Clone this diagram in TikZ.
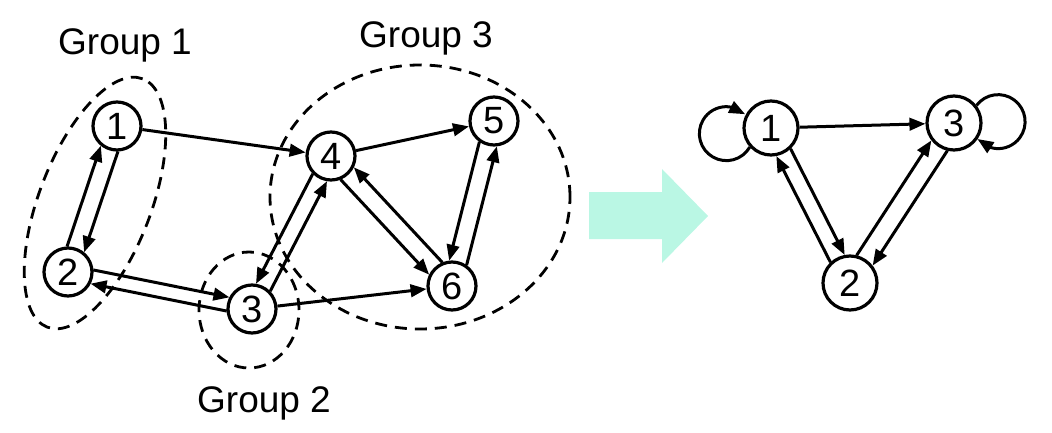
\documentclass[tikz,border=0pt]{standalone}
\usepackage{fontspec}
\setmainfont{Liberation Sans}
\usetikzlibrary{arrows.meta,calc,bending}
\definecolor{bigarrow}{HTML}{BAF7E4}
\tikzset{
  nd/.style={circle,draw,fill=white,line width=3.2pt,minimum size=48pt,inner sep=0pt,font=\fontsize{38}{38}\selectfont},
  rnd/.style={nd,minimum size=54pt},
  arr/.style={line width=3pt,-{Triangle[length=16pt,width=12.5pt]}},
  grp/.style={line width=2.8pt,dash pattern=on 12pt off 8pt},
  lbl/.style={font=\fontsize{37}{37}\selectfont,anchor=base,inner sep=0pt},
}
\newcommand\pedgeL[4]{\draw[arr,shorten <=#4,shorten >=#4] ($(#1)!#3!90:(#2)$) -- ($(#2)!#3!-90:(#1)$);}
\newcommand\pedgeR[4]{\draw[arr,shorten <=#4,shorten >=#4] ($(#1)!#3!-90:(#2)$) -- ($(#2)!#3!90:(#1)$);}
\begin{document}
\begin{tikzpicture}[x=1pt,y=1pt]
\useasboundingbox (0,0) rectangle (1052,-433);
% group ellipses
\draw[grp,rotate around={69:(95,-203)}] (95,-203) ellipse [x radius=133pt,y radius=56pt];
\draw[grp] (249,-310) ellipse [x radius=50pt,y radius=58pt];
\draw[grp] (420,-197) ellipse [x radius=150pt,y radius=132pt];
% labels
\node[lbl] (g1) at (125,-55) {Group 1};
\node[lbl] (g2) at (264,-412) {Group 2};
\node[lbl] (g3) at (426,-48) {Group 3};
% left nodes
\node[nd] (L1) at (117,-126) {1};
\node[nd] (L2) at (68,-272) {2};
\node[nd] (L3) at (252,-309) {3};
\node[nd] (L4) at (331,-156) {4};
\node[nd] (L5) at (494,-121) {5};
\node[nd] (L6) at (452,-286) {6};
% left edges
\draw[arr] (L1) -- (L4);
\draw[arr] (L4) -- (L5);
\draw[arr] (L3) -- (L6);
\pedgeL{L2}{L1}{9pt}{23.8pt}
\pedgeL{L1}{L2}{9pt}{23.8pt}
\pedgeL{L2}{L3}{7pt}{24.4pt}
\pedgeL{L3}{L2}{7pt}{24.4pt}
\pedgeR{L3}{L4}{8pt}{24.2pt}
\pedgeR{L4}{L3}{8pt}{24.2pt}
\pedgeR{L4}{L6}{9pt}{23.8pt}
\pedgeR{L6}{L4}{9pt}{23.8pt}
\pedgeR{L5}{L6}{9pt}{23.8pt}
\pedgeR{L6}{L5}{9pt}{23.8pt}
% big arrow
\fill[bigarrow] (589,-192) -- (662,-192) -- (662,-169) -- (708,-216) -- (662,-263) -- (662,-239) -- (589,-239) -- cycle;
% right nodes
\node[rnd] (R1) at (771,-128) {1};
\node[rnd] (R3) at (954,-123) {3};
\node[rnd] (R2) at (850,-283) {2};
\draw[arr] (R1) -- (R3);
\pedgeL{R1}{R2}{8pt}{27.4pt}
\pedgeL{R2}{R1}{8pt}{27.4pt}
\pedgeL{R2}{R3}{9.5pt}{26.9pt}
\pedgeL{R3}{R2}{9.5pt}{26.9pt}
\draw[arr] (R1.222) arc[start angle=-30,end angle=-314,radius=27pt];
\draw[arr] (R3.38) arc[start angle=143,end angle=-140,radius=27pt];
\end{tikzpicture}
\end{document}
